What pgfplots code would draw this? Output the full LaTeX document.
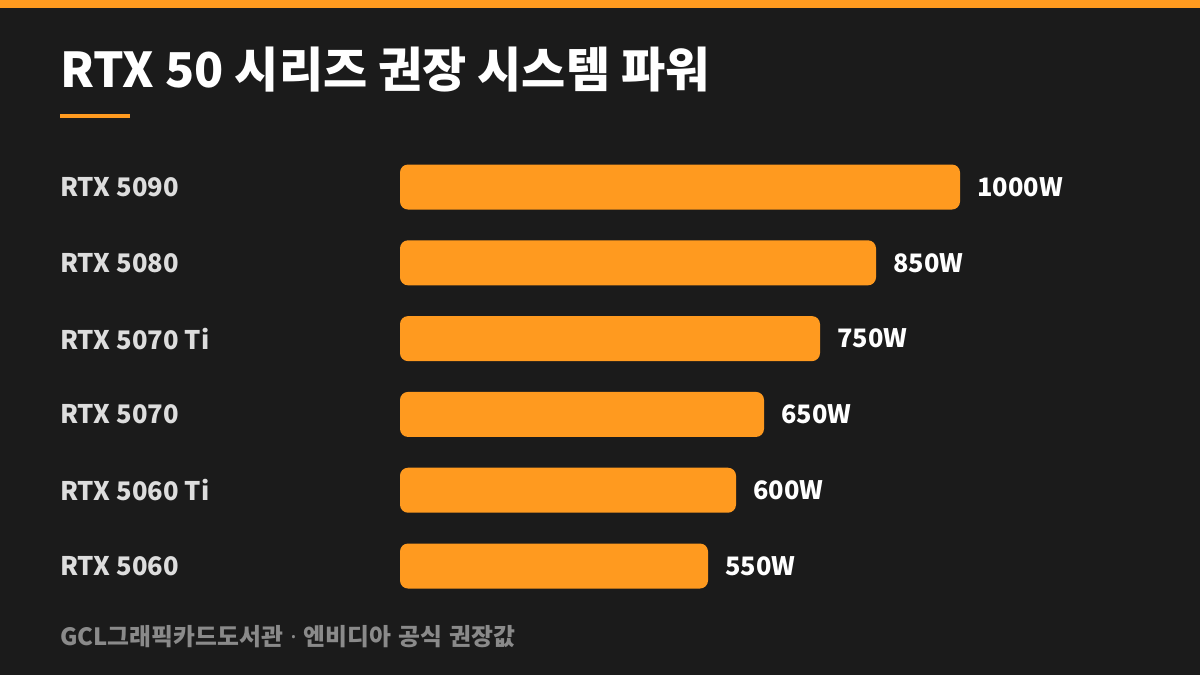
\documentclass[border=0pt]{standalone}
\usepackage{fontspec}
\setmainfont{Noto Sans CJK KR}
\newfontfamily\latinfont{Noto Sans}
\usepackage{pgfplots}
\pgfplotsset{compat=1.18}
\definecolor{bg}{HTML}{1B1B1B}
\definecolor{accent}{HTML}{FF9A1F}
\definecolor{lbl}{HTML}{DDDDDD}
\definecolor{foot}{HTML}{8A8A8A}

\begin{document}
\begin{tikzpicture}[x=1pt,y=1pt]
% page: 1px = 0.5pt
\fill[bg] (0,0) rectangle (600,-337.5);
\fill[accent] (0,0) rectangle (600,-3.75);
\node[anchor=base west, inner sep=0, text=white,
      font=\bfseries\fontsize{24}{28}\selectfont] at (30,-43.5)
      {RTX 50 시리즈 권장 시스템 파워};
\fill[accent] (30,-57) rectangle (65,-59);

\begin{axis}[
  at={(200pt,-93.5pt)}, anchor=origin,
  x=0.28pt, y=37.9pt, y dir=reverse,
  xmin=0, xmax=1000, ymin=0, ymax=5,
  xbar, bar width=22.5pt, bar shift=0pt,
  hide x axis,
  y axis line style={draw=none},
  major tick length=0pt,
  ytick={0,...,5},
  yticklabels={RTX 5090, RTX 5080, RTX 5070 Ti, RTX 5070, RTX 5060 Ti, RTX 5060},
  yticklabel style={anchor=west, inner sep=0pt, xshift=-170pt, text=lbl,
    font=\bfseries\fontsize{12.8}{15}\selectfont},
  clip=false,
  /pgf/number format/1000 sep={},
  /pgf/number format/assume math mode=true,
  nodes near coords={\pgfmathprintnumber{\pgfplotspointmeta}W},
  nodes near coords style={anchor=west, inner sep=0pt, xshift=8.5pt, text=white,
    font=\bfseries\fontsize{12.7}{15}\selectfont},
]
\addplot[fill=accent, draw=none, rounded corners=4pt] coordinates {
  (1000,0) (850,1) (750,2) (650,3) (600,4) (550,5)
};
\end{axis}

\node[anchor=base west, inner sep=0, text=foot,
      font=\bfseries\fontsize{11.9}{13}\selectfont] at (30,-322.5)
      {\spaceskip=3.6pt\relax GCL그래픽카드도서관 {\latinfont\bfseries·} 엔비디아 공식 권장값};
\end{tikzpicture}
\end{document}
